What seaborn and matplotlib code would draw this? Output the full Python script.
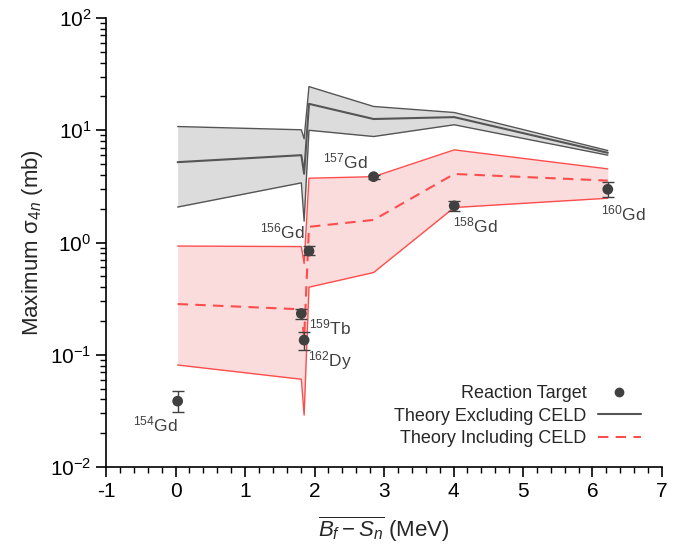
import numpy as np
import pandas as pd
import matplotlib
matplotlib.use("Agg")
import matplotlib.pyplot as plt
from matplotlib.lines import Line2D
from matplotlib.ticker import MultipleLocator, LogLocator, NullFormatter
import seaborn as sns

# ---------------- data ----------------
targets = ["154", "159", "162", "156", "157", "158", "160"]
elements = ["Gd", "Tb", "Dy", "Gd", "Gd", "Gd", "Gd"]
x_vals = [0.03, 1.81, 1.85, 1.92, 2.85, 4.01, 6.22]
exp_y = [0.0386, 0.233, 0.135, 0.84, 3.86, 2.12, 2.98]
exp_lo = [0.031, 0.208, 0.111, 0.77, 3.70, 1.91, 2.53]
exp_hi = [0.0477, 0.254, 0.160, 0.93, 4.02, 2.34, 3.44]

# theory without CELD (grey band)
noceld_upper = [10.8, 10.1, 8.4, 24.5, 16.3, 14.4, 6.6]
noceld_mid = [5.2, 6.0, 4.1, 17.2, 12.6, 13.1, 6.3]
noceld_lower = [2.07, 3.4, 1.55, 10.0, 8.8, 11.2, 6.0]

# theory including CELD (red band)
celd_upper = [0.93, 0.92, 0.65, 3.74, 3.86, 6.69, 4.53]
celd_mid = [0.283, 0.254, 0.14, 1.38, 1.59, 4.08, 3.56]
celd_lower = [0.081, 0.0605, 0.029, 0.40, 0.54, 2.05, 2.48]

legend_labels = ["Reaction Target", "Theory Excluding CELD", "Theory Including CELD"]

df = pd.DataFrame({
    "x": x_vals, "exp": exp_y, "lo": exp_lo, "hi": exp_hi,
    "nu": noceld_upper, "nm": noceld_mid, "nl": noceld_lower,
    "cu": celd_upper, "cm": celd_mid, "cl": celd_lower,
})

# ---------------- style ----------------
sns.set_theme(style="ticks")
plt.rcParams["font.family"] = ["Liberation Sans", "DejaVu Sans"]
plt.rcParams["mathtext.fontset"] = "custom"
plt.rcParams["mathtext.rm"] = "Liberation Sans"
plt.rcParams["mathtext.it"] = "Liberation Sans:italic"
plt.rcParams["mathtext.bf"] = "Liberation Sans:bold"
plt.rcParams["axes.unicode_minus"] = False

grey_line = "#555555"
grey_fill = "#dcdcdc"
red_line = "#ff4d4d"
red_fill = "#fadcdc"
pt_col = "#404040"

fig = plt.figure(figsize=(6.8, 5.47), dpi=100)
ax = fig.add_axes([0.156, 0.1463, 0.8175, 0.8207])

# bands
ax.fill_between(df["x"], df["nl"], df["nu"], color=grey_fill, lw=0, zorder=1)
ax.fill_between(df["x"], df["cl"], df["cu"], color=red_fill, lw=0, zorder=1)

kw = dict(ax=ax, estimator=None, sort=True, legend=False)
sns.lineplot(data=df, x="x", y="nu", color=grey_line, lw=1.0, zorder=2, **kw)
sns.lineplot(data=df, x="x", y="nl", color=grey_line, lw=1.0, zorder=2, **kw)
sns.lineplot(data=df, x="x", y="nm", color=grey_line, lw=1.5, zorder=3, **kw)
sns.lineplot(data=df, x="x", y="cu", color=red_line, lw=1.0, zorder=2, **kw)
sns.lineplot(data=df, x="x", y="cl", color=red_line, lw=1.0, zorder=2, **kw)
sns.lineplot(data=df, x="x", y="cm", color=red_line, lw=1.5, zorder=3,
             dashes=False, **kw)
ax.lines[-1].set_linestyle((0, (5, 3.5)))

# experimental points
yerr = np.array([df["exp"] - df["lo"], df["hi"] - df["exp"]])
ax.errorbar(df["x"], df["exp"], yerr=yerr, fmt="none", ecolor=pt_col,
            elinewidth=1.0, capsize=4, capthick=1.0, zorder=4)
sns.scatterplot(data=df, x="x", y="exp", ax=ax, color=pt_col, s=60,
                edgecolor="none", zorder=5, legend=False)

# labels of targets
offsets = [(-22, -23), (29, -14), (26, -20), (-27, 20), (-28, 15), (21, -20), (16, -24)]
for a, el, xx, yy, off in zip(targets, elements, x_vals, exp_y, offsets):
    ax.annotate(r"$^{%s}$%s" % (a, el), xy=(xx, yy), xytext=off,
                textcoords="offset pixels", ha="center", va="center",
                fontsize=12.5, color="#404040")

ax.set_yscale("log")
ax.set_xlim(-1, 7)
ax.set_ylim(0.01, 100)
ax.xaxis.set_major_locator(MultipleLocator(1))
ax.xaxis.set_minor_locator(MultipleLocator(0.2))
ax.yaxis.set_minor_locator(LogLocator(base=10, subs=np.arange(2, 10)))
ax.yaxis.set_minor_formatter(NullFormatter())
ax.tick_params(axis="both", which="major", direction="out", length=7, width=1.2,
               labelsize=15, color="black", labelcolor="black")
ax.tick_params(axis="both", which="minor", direction="out", length=4, width=1.0,
               color="black")
for s in ["top", "right"]:
    ax.spines[s].set_visible(False)
for s in ["left", "bottom"]:
    ax.spines[s].set_linewidth(1.2)
    ax.spines[s].set_color("black")

ax.set_xlabel(r"$\overline{B_f - S_n}$ (MeV)", fontsize=16, labelpad=10)
ax.set_ylabel(r"Maximum σ$_{\mathit{4n}}$ (mb)", fontsize=16)

handles = [
    Line2D([], [], marker="o", color=pt_col, ls="none", markersize=6),
    Line2D([], [], color=grey_line, lw=1.5),
    Line2D([], [], color=red_line, lw=1.5, ls=(0, (5, 3.5))),
]
ax.legend(handles, legend_labels, loc="lower right", bbox_to_anchor=(0.975, 0.028),
          frameon=False, markerfirst=False, fontsize=13, handlelength=2.4,
          labelspacing=0.3, handletextpad=0.6, borderaxespad=0)

fig.savefig("out.png", dpi=100)
